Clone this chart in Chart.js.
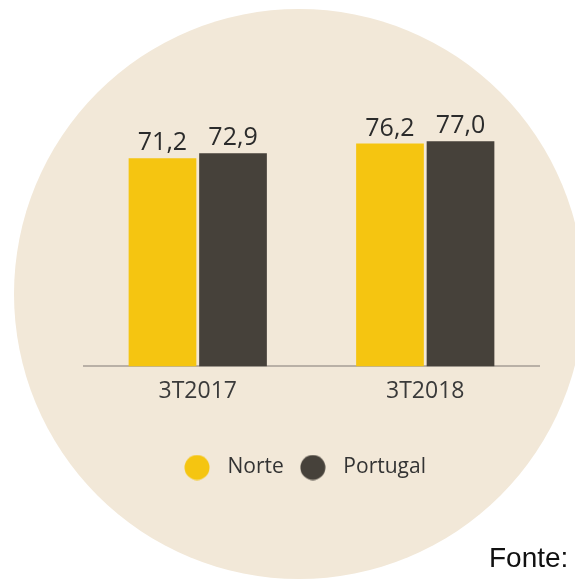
<!DOCTYPE html>
<html>
<head>
<meta charset="utf-8">
<script src="https://cdn.jsdelivr.net/npm/chart.js@4.4.0/dist/chart.umd.min.js"></script>
<style>
  html, body { margin: 0; padding: 0; background: #ffffff; }
  #wrap { position: relative; width: 575px; height: 580px; overflow: hidden; }
  #c { position: absolute; left: 0; top: 0; }
  #fonte { position: absolute; left: 489px; top: 542px; font-family: "Liberation Sans", Arial, sans-serif; font-size: 28px; color: #111; white-space: nowrap; }
</style>
</head>
<body>
<div id="wrap">
  <canvas id="c" width="575" height="580"></canvas>
  <div id="fonte">Fonte:</div>
</div>
<script>
const categories = ["3T2017", "3T2018"];
const norteValues = [71.2, 76.2];
const portugalValues = [72.9, 77.0];
const seriesNames = ["Norte", "Portugal"];
const seriesColors = ["#F5C511", "#46413A"];

function dotImage(color) {
  const cv = document.createElement('canvas');
  cv.width = 26; cv.height = 26;
  const g = cv.getContext('2d');
  g.fillStyle = color;
  g.beginPath();
  g.arc(13, 13, 12.5, 0, Math.PI * 2);
  g.fill();
  return cv;
}

const circleBg = {
  id: 'circleBg',
  beforeDraw(chart) {
    const ctx = chart.ctx;
    ctx.save();
    ctx.fillStyle = '#F2E8D8';
    ctx.beginPath();
    ctx.arc(299, 294, 285, 0, Math.PI * 2);
    ctx.fill();
    ctx.restore();
  }
};

const legendShift = {
  id: 'legendShift',
  afterLayout(chart) {
    if (chart.legend) {
      chart.legend.left -= 10;
      chart.legend.right -= 10;
    }
  }
};

const valueLabels = {
  id: 'valueLabels',
  afterDatasetsDraw(chart) {
    const ctx = chart.ctx;
    ctx.save();
    ctx.font = '25px "Open Sans", sans-serif';
    ctx.fillStyle = '#2b2b2b';
    ctx.textAlign = 'center';
    ctx.textBaseline = 'alphabetic';
    chart.data.datasets.forEach((ds, di) => {
      const meta = chart.getDatasetMeta(di);
      meta.data.forEach((bar, i) => {
        const txt = ds.data[i].toFixed(1).replace('.', ',');
        ctx.fillText(txt, bar.x, bar.y - 8);
      });
    });
    ctx.restore();
  }
};

new Chart(document.getElementById('c'), {
  type: 'bar',
  data: {
    labels: categories,
    datasets: [
      { label: seriesNames[0], data: norteValues, backgroundColor: seriesColors[0] },
      { label: seriesNames[1], data: portugalValues, backgroundColor: seriesColors[1] }
    ]
  },
  options: {
    responsive: false,
    animation: false,
    devicePixelRatio: 1,
    layout: { padding: { left: 84, right: 36, top: 74, bottom: 92 } },
    datasets: { bar: { categoryPercentage: 0.62, barPercentage: 0.96 } },
    scales: {
      x: {
        grid: { display: false, drawTicks: false },
        border: { display: true, color: '#B9B0A6', width: 2 },
        ticks: { color: '#3a3a3a', font: { family: '"Open Sans", sans-serif', size: 23 }, padding: 11 },
        afterFit(scale) { scale.height += 32; }
      },
      y: { display: false, min: 0, max: 100 }
    },
    plugins: {
      tooltip: { enabled: false },
      legend: {
        position: 'bottom',
        labels: {
          usePointStyle: true,
          boxHeight: 18,
          pointStyleWidth: 40,
          padding: 9,
          color: '#333333',
          font: { family: '"Open Sans", sans-serif', size: 21 },
          generateLabels(chart) {
            const items = Chart.defaults.plugins.legend.labels.generateLabels(chart);
            items.forEach((it, i) => { it.pointStyle = dotImage(seriesColors[i]); });
            return items;
          }
        }
      }
    }
  },
  plugins: [circleBg, legendShift, valueLabels]
});
</script>
</body>
</html>
